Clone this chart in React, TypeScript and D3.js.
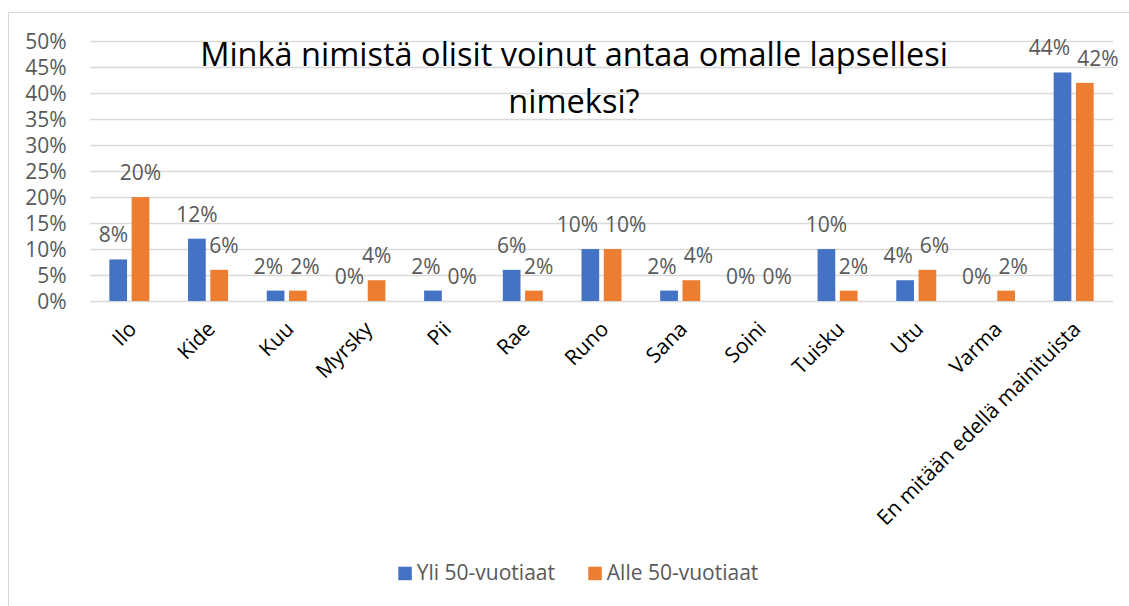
import { useEffect, useRef } from 'react';
import * as d3 from 'd3';

const categories = [
  'Ilo', 'Kide', 'Kuu', 'Myrsky', 'Pii', 'Rae', 'Runo', 'Sana', 'Soini',
  'Tuisku', 'Utu', 'Varma', 'En mitään edellä mainituista',
];
const seriesNames = ['Yli 50-vuotiaat', 'Alle 50-vuotiaat'];
const yli50 = [8, 12, 2, 0, 2, 6, 10, 2, 0, 10, 4, 0, 44];
const alle50 = [20, 6, 2, 4, 0, 2, 10, 4, 0, 2, 6, 2, 42];
const yTicks = [0, 5, 10, 15, 20, 25, 30, 35, 40, 45, 50];
const titleLines = ['Minkä nimistä olisit voinut antaa omalle lapsellesi', 'nimeksi?'];

const W = 1129;
const H = 606;
const FONT = '"Open Sans", "Noto Sans", sans-serif';
const colors = ['#4472C4', '#ED7D31'];

const App = () => {
  const svgRef = useRef(null);

  useEffect(() => {
    const svg = d3.select(svgRef.current);
    svg.selectAll('*').remove();

    const plot = { left: 90, right: 1113, top: 41.3, bottom: 301 };

    // chart border (cut off at right and bottom like the screenshot)
    svg
      .append('rect')
      .attr('x', 8.5)
      .attr('y', 12.5)
      .attr('width', 1300)
      .attr('height', 800)
      .attr('fill', 'white')
      .attr('stroke', '#D9D9D9')
      .attr('stroke-width', 1);

    const x = d3
      .scaleBand()
      .domain(categories)
      .range([plot.left, plot.right])
      .paddingInner(0);

    const y = d3.scaleLinear().domain([0, 50]).range([plot.bottom, plot.top]);

    const barW = 17.7;
    const barGap = 4.6;
    const inner = d3
      .scaleBand()
      .domain(seriesNames)
      .range([0, barW * 2 + barGap])
      .paddingInner(barGap / (barW + barGap));
    const groupOffset = (x.bandwidth() - (barW * 2 + barGap)) / 2;

    // gridlines
    svg
      .append('g')
      .selectAll('line')
      .data(yTicks)
      .join('line')
      .attr('x1', plot.left)
      .attr('x2', plot.right)
      .attr('y1', (d) => Math.round(y(d)) + 0.5)
      .attr('y2', (d) => Math.round(y(d)) + 0.5)
      .attr('stroke', '#D9D9D9')
      .attr('stroke-width', 1.3);

    // y tick labels
    svg
      .append('g')
      .selectAll('text')
      .data(yTicks)
      .join('text')
      .attr('x', 66.7)
      .attr('y', (d) => y(d))
      .attr('dy', '0.36em')
      .attr('text-anchor', 'end')
      .attr('fill', '#595959')
      .style('font-family', FONT)
      .style('font-size', '21px')
      .text((d) => `${d}%`);

    // title
    svg
      .append('text')
      .attr('text-anchor', 'middle')
      .attr('fill', '#000')
      .style('font-family', FONT)
      .style('font-size', '32.5px')
      .selectAll('tspan')
      .data(titleLines)
      .join('tspan')
      .attr('x', 574)
      .attr('y', (d, i) => 66 + i * 47)
      .text((d) => d);

    const series = [yli50, alle50];

    // bars
    series.forEach((vals, s) => {
      svg
        .append('g')
        .selectAll('rect')
        .data(vals)
        .join('rect')
        .attr('x', (d, i) => x(categories[i]) + groupOffset + inner(seriesNames[s]))
        .attr('y', (d) => y(d))
        .attr('width', inner.bandwidth())
        .attr('height', (d) => y(0) - y(d))
        .attr('fill', colors[s]);
    });

    // data labels, pushed sideways when they hit the neighbour bar or label
    const labelG = svg.append('g');
    const pad = 3.5;
    categories.forEach((cat, i) => {
      const bx = [0, 1].map((s) => x(cat) + groupOffset + inner(seriesNames[s]));
      const tops = [0, 1].map((s) => y(series[s][i]));
      const base = tops.map((t) => t - 17);
      const texts = [0, 1].map((s) =>
        labelG
          .append('text')
          .attr('text-anchor', 'middle')
          .attr('fill', '#595959')
          .style('font-family', FONT)
          .style('font-size', '21px')
          .text(`${series[s][i]}%`)
      );
      const hw = texts.map((t) => t.node().getComputedTextLength() / 2 + pad);
      const c = bx.map((b) => b + inner.bandwidth() / 2);

      if (tops[1] < base[0] + 3 && c[0] + hw[0] > bx[1]) c[0] = bx[1] - hw[0];
      if (tops[0] < base[1] + 3 && c[1] - hw[1] < bx[0] + inner.bandwidth())
        c[1] = bx[0] + inner.bandwidth() + hw[1];
      if (Math.abs(base[0] - base[1]) < 18) {
        const overlap = c[0] + hw[0] - (c[1] - hw[1]);
        if (overlap > 0) {
          c[0] -= overlap / 2;
          c[1] += overlap / 2;
        }
      }
      texts.forEach((t, s) => t.attr('x', c[s]).attr('y', base[s]));
    });

    // category labels
    svg
      .append('g')
      .selectAll('text')
      .data(categories)
      .join('text')
      .attr(
        'transform',
        (d) => `translate(${x(d) + x.bandwidth() / 2 - 2},${plot.bottom + 19}) rotate(-45)`
      )
      .attr('text-anchor', 'end')
      .attr('dy', '0.7em')
      .attr('fill', '#000')
      .style('font-family', FONT)
      .style('font-size', '21px')
      .text((d) => d);

    // legend
    const legendX = [398.3, 588.3];
    const legend = svg
      .append('g')
      .selectAll('g')
      .data(seriesNames)
      .join('g')
      .attr('transform', (d, i) => `translate(${legendX[i]},566.7)`);
    legend
      .append('rect')
      .attr('width', 13.5)
      .attr('height', 13.5)
      .attr('fill', (d, i) => colors[i]);
    legend
      .append('text')
      .attr('x', 18.5)
      .attr('y', 13)
      .attr('fill', '#595959')
      .style('font-family', FONT)
      .style('font-size', '21px')
      .text((d) => d);
  }, []);

  return (
    <svg
      ref={svgRef}
      width={W}
      height={H}
      style={{ position: 'absolute', left: 0, top: 0, background: 'white' }}
    />
  );
};

export default App;
